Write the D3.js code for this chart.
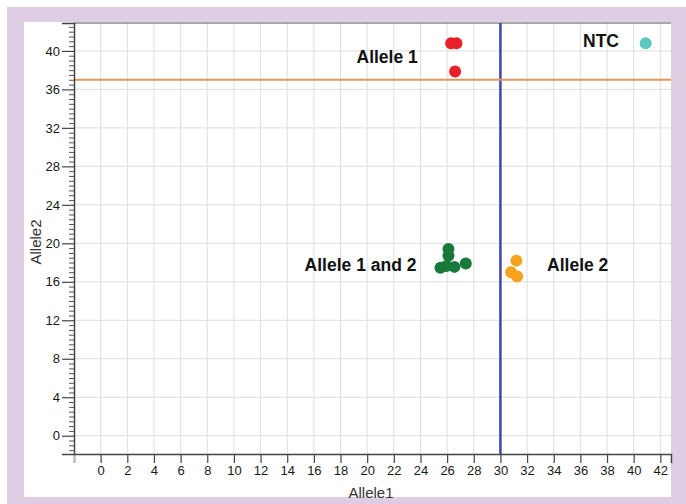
<!DOCTYPE html>
<html>
<head>
<meta charset="utf-8">
<script src="https://cdn.jsdelivr.net/npm/d3@7"></script>
<style>
  body { margin: 0; background: #fff; }
  svg text { font-family: "Liberation Sans", Arial, sans-serif; }
</style>
</head>
<body>
<svg id="chart" width="686" height="504"></svg>
<script>
// Allelic discrimination plot: end-point fluorescence, Allele1 vs Allele2
const xTickValues = d3.range(-2, 43, 2);
const yMajorTicks = d3.range(0, 41, 4);
const yMinorTicks = d3.range(-1.5, 42.6, 0.5).filter(v => v % 4 !== 0);

const allele1Points = [[26.3, 40.8], [26.7, 40.8], [26.6, 37.85]];
const heteroPoints = [[26.1, 19.4], [26.1, 18.7], [25.5, 17.45], [25.95, 17.65], [26.55, 17.55], [27.4, 17.9]];
const allele2Points = [[31.2, 18.2], [30.8, 17.0], [31.25, 16.55]];
const ntcPoints = [[40.9, 40.8]];

const xCutoff = 30;
const yCutoff = 37;

const svg = d3.select("#chart");

// lavender frame and white panel
svg.append("rect").attr("x", 7).attr("y", 7).attr("width", 679).attr("height", 497).attr("fill", "#dfcde3");
svg.append("rect").attr("x", 24).attr("y", 22).attr("width", 647).attr("height", 475).attr("fill", "#ffffff");

const plotLeft = 74, plotRight = 671, plotTop = 23, plotBottom = 454;
const x = d3.scaleLinear().domain([-2, 42.8]).range([plotLeft, plotRight]);
const y = d3.scaleLinear().domain([-1.9, 42.9]).range([plotBottom, plotTop]);

// grid
const grid = svg.append("g").attr("stroke", "#dedede").attr("stroke-width", 1);
grid.selectAll("line.v").data(d3.range(0, 43, 2)).join("line").attr("class", "v")
  .attr("x1", d => x(d)).attr("x2", d => x(d)).attr("y1", plotTop).attr("y2", plotBottom);
grid.selectAll("line.h").data(yMajorTicks).join("line").attr("class", "h")
  .attr("x1", plotLeft).attr("x2", plotRight).attr("y1", d => y(d)).attr("y2", d => y(d));

// top border
svg.append("line").attr("x1", plotLeft).attr("x2", plotRight).attr("y1", plotTop).attr("y2", plotTop)
  .attr("stroke", "#555").attr("stroke-width", 1.2);

// cluster cut-off lines
svg.append("line").attr("x1", x(xCutoff)).attr("x2", x(xCutoff)).attr("y1", plotTop).attr("y2", plotBottom)
  .attr("stroke", "#3b46ae").attr("stroke-width", 2.5);
svg.append("line").attr("x1", plotLeft).attr("x2", plotRight).attr("y1", y(yCutoff)).attr("y2", y(yCutoff))
  .attr("stroke", "#e3975a").attr("stroke-width", 2);

// x axis
const xAxis = svg.append("g").attr("transform", `translate(0,${plotBottom})`)
  .call(d3.axisBottom(x).tickValues(xTickValues).tickSize(9).tickPadding(3)
    .tickFormat(d => d < 0 ? "" : d));
xAxis.select(".domain").attr("stroke", "#444").attr("stroke-width", 1.5);
xAxis.selectAll(".tick line").attr("stroke", d => d < 0 ? "#bbb" : "#444").attr("stroke-width", 1.2);
xAxis.selectAll(".tick text").attr("font-size", 13).attr("fill", "#1a1a1a").attr("font-family", "Liberation Sans, Arial, sans-serif");

// y axis: minor then major ticks
const yMinor = svg.append("g").attr("transform", `translate(${plotLeft},0)`)
  .call(d3.axisLeft(y).tickValues(yMinorTicks).tickSize(5).tickFormat(""));
yMinor.select(".domain").remove();
yMinor.selectAll(".tick line").attr("stroke", "#555");

const yAxis = svg.append("g").attr("transform", `translate(${plotLeft},0)`)
  .call(d3.axisLeft(y).tickValues(yMajorTicks).tickSize(12).tickPadding(2));
yAxis.select(".domain").attr("stroke", "#444").attr("stroke-width", 1.5);
yAxis.selectAll(".tick line").attr("stroke", "#444").attr("stroke-width", 1.2);
yAxis.selectAll(".tick text").attr("font-size", 13).attr("fill", "#1a1a1a").attr("font-family", "Liberation Sans, Arial, sans-serif");

// axis titles
svg.append("text").attr("x", 371).attr("y", 498).attr("text-anchor", "middle")
  .attr("font-size", 15).attr("fill", "#333").text("Allele1");
svg.append("text").attr("transform", "translate(41,242) rotate(-90)").attr("text-anchor", "middle")
  .attr("font-size", 15).attr("fill", "#333").text("Allele2");

// sample points
const groups = [
  { pts: allele1Points, color: "#e8202a" },
  { pts: heteroPoints, color: "#177a3a" },
  { pts: allele2Points, color: "#f4a21f" },
  { pts: ntcPoints, color: "#5ec7c1" }
];
groups.forEach(g => {
  svg.append("g").selectAll("circle").data(g.pts).join("circle")
    .attr("cx", d => x(d[0])).attr("cy", d => y(d[1])).attr("r", 6).attr("fill", g.color);
});

// cluster labels
const lbl = svg.append("g").attr("font-family", "Lato, 'Open Sans', sans-serif")
  .attr("font-weight", "bold").attr("font-size", 17.5).attr("fill", "#111");
lbl.append("text").attr("x", x(23.8)).attr("y", y(38.75)).attr("text-anchor", "end").text("Allele 1");
lbl.append("text").attr("x", x(38.9)).attr("y", y(40.4)).attr("text-anchor", "end").text("NTC");
lbl.append("text").attr("x", x(23.7)).attr("y", y(17.1)).attr("text-anchor", "end").text("Allele 1 and 2");
lbl.append("text").attr("x", x(33.5)).attr("y", y(17.1)).attr("text-anchor", "start").text("Allele 2");
</script>
</body>
</html>
